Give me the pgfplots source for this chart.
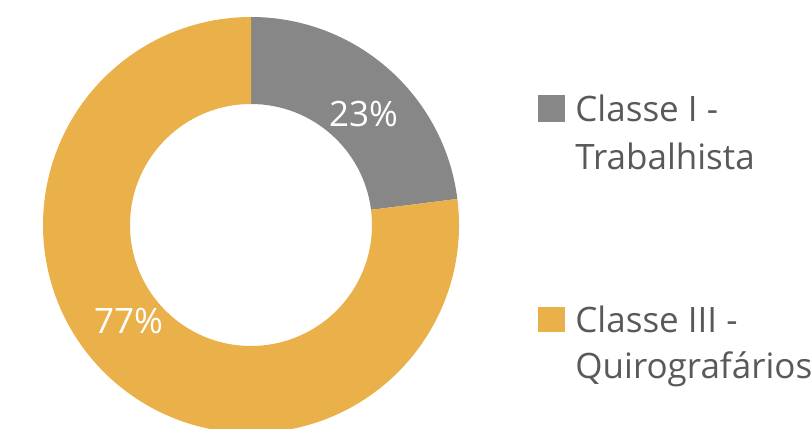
\documentclass[border=0pt]{standalone}
\usepackage{pgfplots}
\usepackage{pgfplotstable}
\pgfplotsset{compat=1.18}
\usepackage{fontspec}
\setmainfont{Open Sans}

\definecolor{slicegray}{HTML}{878787}
\definecolor{sliceorange}{HTML}{EAB04A}
\definecolor{legtext}{HTML}{595959}

% share of each class, in percent
\pgfplotstableread{
value
23
77
}\donutdata

\begin{document}
\begin{tikzpicture}
\pgfplotstablegetelem{0}{value}\of\donutdata \let\va\pgfplotsretval
\pgfplotstablegetelem{1}{value}\of\donutdata \let\vb\pgfplotsretval
\pgfmathsetmacro{\aA}{90}
\pgfmathsetmacro{\aB}{90-3.6*\va}
\pgfmathsetmacro{\aC}{\aB-3.6*\vb}
\def\Ro{104pt}
\def\Ri{60.5pt}
\begin{axis}[
    hide axis,
    scale only axis,
    width=406pt, height=214pt,
    xmin=0, xmax=812, ymin=0, ymax=428,
    clip=false,
  ]
  \coordinate (bl) at (axis cs:0,0);
  \coordinate (tr) at (axis cs:812,428);
  % slices
  \fill[slicegray] ([shift={(\aA:\Ro)}]axis cs:251,203)
    arc[start angle=\aA, end angle=\aB, radius=\Ro]
    -- ([shift={(\aB:\Ri)}]axis cs:251,203)
    arc[start angle=\aB, end angle=\aA, radius=\Ri] -- cycle;
  \fill[sliceorange] ([shift={(\aB:\Ro)}]axis cs:251,203)
    arc[start angle=\aB, end angle=\aC, radius=\Ro]
    -- ([shift={(\aC:\Ri)}]axis cs:251,203)
    arc[start angle=\aC, end angle=\aB, radius=\Ri] -- cycle;

  % data labels
  \node[white, inner sep=0, anchor=base, font=\fontsize{17.5}{21}\selectfont]
    at (axis cs:363.5,301) {\va\%};
  \node[white, inner sep=0, anchor=base, font=\fontsize{17.5}{21}\selectfont]
    at (axis cs:128.5,95) {\vb\%};

  % legend
  \fill[slicegray] (axis cs:538,333) rectangle (axis cs:565,306);
  \fill[sliceorange] (axis cs:538,121) rectangle (axis cs:565,96);
  \begin{scope}[every node/.style={legtext, inner sep=0, anchor=base west,
      font=\fontsize{17.5}{21}\selectfont}]
    \node at (axis cs:575,306) {Classe I -};
    \node at (axis cs:575,258) {Trabalhista};
    \node at (axis cs:575,96) {Classe III -};
    \node at (axis cs:575,50) {Quirografários};
  \end{scope}
\end{axis}
\pgfresetboundingbox
\useasboundingbox (bl) rectangle (tr);
\end{tikzpicture}
\end{document}
